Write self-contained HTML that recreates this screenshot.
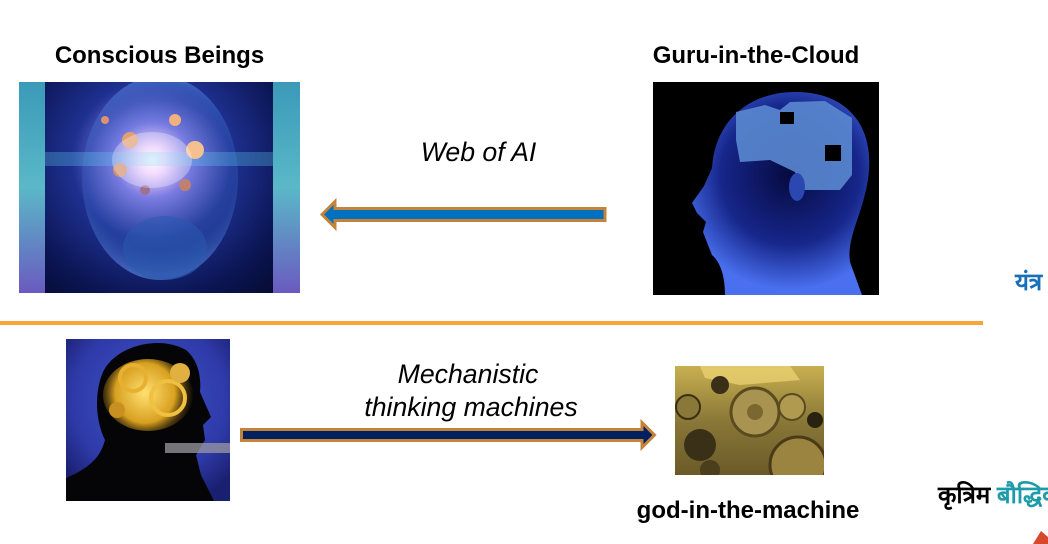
<!DOCTYPE html>
<html>
<head>
<meta charset="utf-8">
<style>
html,body{margin:0;padding:0;background:#fff;}
body{width:1048px;height:544px;overflow:hidden;position:relative;}
svg{position:absolute;left:0;top:0;}
</style>
</head>
<body>
<svg width="1048" height="544" viewBox="0 0 1048 544" xmlns="http://www.w3.org/2000/svg">
<defs>
  <clipPath id="c1"><rect x="19" y="82" width="281" height="211"/></clipPath>
  <clipPath id="c2"><rect x="653" y="82" width="226" height="213"/></clipPath>
  <clipPath id="c3"><rect x="66" y="339" width="164" height="162"/></clipPath>
  <clipPath id="c4"><rect x="675" y="366" width="149" height="109"/></clipPath>
  <radialGradient id="g1bg" cx="152" cy="160" r="190" gradientUnits="userSpaceOnUse">
    <stop offset="0" stop-color="#ffffff"/>
    <stop offset="0.07" stop-color="#f4d0ff"/>
    <stop offset="0.2" stop-color="#7a78e0"/>
    <stop offset="0.42" stop-color="#1e3090"/>
    <stop offset="0.75" stop-color="#0a1450"/>
    <stop offset="1" stop-color="#050a2a"/>
  </radialGradient>
  <radialGradient id="g1head" cx="160" cy="175" r="100" gradientUnits="userSpaceOnUse">
    <stop offset="0" stop-color="#a0c0ff" stop-opacity="0"/>
    <stop offset="0.75" stop-color="#3a70d0" stop-opacity="0.25"/>
    <stop offset="1" stop-color="#6aa0ff" stop-opacity="0.5"/>
  </radialGradient>
  <linearGradient id="g1col" x1="0" y1="0" x2="0" y2="1">
    <stop offset="0" stop-color="#3a9ab8"/>
    <stop offset="0.5" stop-color="#5ab8c8"/>
    <stop offset="1" stop-color="#6a5ac0"/>
  </linearGradient>
  <radialGradient id="g2head" cx="790" cy="175" r="115" gradientUnits="userSpaceOnUse">
    <stop offset="0" stop-color="#060a40"/>
    <stop offset="0.6" stop-color="#16268a"/>
    <stop offset="1" stop-color="#4a70f0"/>
  </radialGradient>
  <radialGradient id="g3bg" cx="150" cy="400" r="110" gradientUnits="userSpaceOnUse">
    <stop offset="0" stop-color="#4454c8"/>
    <stop offset="0.7" stop-color="#2e3aa8"/>
    <stop offset="1" stop-color="#1a2070"/>
  </radialGradient>
  <radialGradient id="g3gold" cx="145" cy="393" r="50" gradientUnits="userSpaceOnUse">
    <stop offset="0" stop-color="#ffe070"/>
    <stop offset="0.6" stop-color="#d8a020"/>
    <stop offset="1" stop-color="#503808" stop-opacity="0"/>
  </radialGradient>
  <linearGradient id="g4bg" x1="0" y1="0" x2="0" y2="1">
    <stop offset="0" stop-color="#c8b050"/>
    <stop offset="0.5" stop-color="#8a7838"/>
    <stop offset="1" stop-color="#6a5a28"/>
  </linearGradient>
</defs>

<!-- Titles -->
<g font-family="Liberation Sans, Arial, sans-serif" font-weight="bold" font-size="24" fill="#000" text-anchor="middle">
  <text x="159.5" y="63">Conscious Beings</text>
  <text x="756" y="63">Guru-in-the-Cloud</text>
  <text x="748" y="518">god-in-the-machine</text>
</g>
<g font-family="Liberation Sans, Arial, sans-serif" font-style="italic" font-size="26.67" fill="#000" text-anchor="middle">
  <text x="478.5" y="161">Web of AI</text>
  <text x="468" y="383">Mechanistic</text>
  <text x="471" y="416">thinking machines</text>
</g>

<!-- Image 1: Conscious beings -->
<g clip-path="url(#c1)">
  <rect x="19" y="82" width="281" height="211" fill="url(#g1bg)"/>
  <ellipse cx="160" cy="178" rx="78" ry="102" fill="url(#g1head)"/>
  <ellipse cx="165" cy="248" rx="42" ry="32" fill="#2a5ab0" opacity="0.55"/>
  <rect x="19" y="152" width="281" height="14" fill="#60d0f0" opacity="0.3"/>
  <rect x="19" y="82" width="26" height="211" fill="url(#g1col)"/>
  <rect x="273" y="82" width="27" height="211" fill="url(#g1col)"/>
  <circle cx="130" cy="140" r="8" fill="#e0a070"/>
  <circle cx="175" cy="120" r="6" fill="#f0b080"/>
  <circle cx="195" cy="150" r="9" fill="#f5c090"/>
  <circle cx="120" cy="170" r="7" fill="#d09070"/>
  <circle cx="185" cy="185" r="6" fill="#c08070"/>
  <circle cx="145" cy="190" r="5" fill="#a07090"/>
  <circle cx="105" cy="120" r="4" fill="#e09070"/>
  <ellipse cx="152" cy="160" rx="40" ry="28" fill="#ffffff" opacity="0.3"/>
</g>

<!-- Image 2: Guru-in-the-cloud -->
<g clip-path="url(#c2)">
  <rect x="653" y="82" width="226" height="213" fill="#000"/>
  <path d="M725 295 C725 275 720 262 712 255 L708 245 L703 232 L706 222 L697 213 L692 203 L704 186 L712 168 C715 120 750 92 795 92 C850 92 872 128 869 170 C866 210 846 235 850 262 L862 295 Z" fill="url(#g2head)"/>
  <path d="M736 112 L765 105 L780 110 L790 102 L825 101 L852 118 L852 175 L840 190 L800 190 L795 172 L770 160 L740 162 L736 140 Z" fill="#5a88d0" opacity="0.9"/>
  <rect x="780" y="112" width="14" height="12" fill="#000"/>
  <rect x="825" y="145" width="16" height="16" fill="#000"/>
  <ellipse cx="797" cy="187" rx="8" ry="14" fill="#2a48b0"/>
</g>

<!-- Divider line -->
<rect x="0" y="321" width="983" height="4" fill="#F9A53B"/>

<!-- Image 3: head with gears -->
<g clip-path="url(#c3)">
  <rect x="66" y="339" width="164" height="162" fill="url(#g3bg)"/>
  <path d="M66 501 L66 478 C85 470 100 460 105 440 C95 420 94 390 104 370 C118 345 160 335 186 350 C200 362 201 380 200 392 L211 417 L203 425 L205 440 L196 455 L201 475 L214 501 Z" fill="#050508"/>
  <ellipse cx="148" cy="395" rx="45" ry="36" fill="url(#g3gold)"/>
  <circle cx="168" cy="398" r="17" fill="none" stroke="#f0c040" stroke-width="4"/>
  <circle cx="133" cy="378" r="13" fill="none" stroke="#e8b030" stroke-width="4"/>
  <circle cx="117" cy="410" r="8" fill="#c89020"/>
  <circle cx="180" cy="373" r="10" fill="#e0b040"/>
  <rect x="165" y="443" width="65" height="10" fill="#9a9aa0" opacity="0.75"/>
</g>

<!-- Image 4: gears -->
<g clip-path="url(#c4)">
  <rect x="675" y="366" width="149" height="109" fill="url(#g4bg)"/>
  <path d="M700 366 L790 366 L800 380 L740 385 L705 378 Z" fill="#e8d070" opacity="0.8"/>
  <circle cx="755" cy="412" r="24" fill="#a89450" stroke="#5a4a20" stroke-width="3"/>
  <circle cx="755" cy="412" r="8" fill="#7a6830"/>
  <circle cx="792" cy="407" r="13" fill="#b09a50" stroke="#5a4a20" stroke-width="2"/>
  <circle cx="798" cy="465" r="28" fill="#9a8440" stroke="#4a3a18" stroke-width="3"/>
  <circle cx="688" cy="407" r="12" fill="#8a7838" stroke="#3a2e10" stroke-width="2"/>
  <circle cx="700" cy="445" r="16" fill="#3a3018"/>
  <circle cx="815" cy="420" r="8" fill="#2a2210"/>
  <circle cx="720" cy="385" r="9" fill="#3a3018"/>
  <circle cx="710" cy="470" r="10" fill="#4a3e1c"/>
</g>

<!-- Arrow 1 (left) -->
<polygon points="322,214.5 335,201.5 335,208.5 605,208.5 605,220.5 335,220.5 335,227.5" fill="#0070C0" stroke="#C4833A" stroke-width="3" stroke-linejoin="miter"/>

<!-- Arrow 2 (right) -->
<polygon points="241.5,429.5 642,429.5 642,422.5 654.5,435 642,447.5 642,440.5 241.5,440.5" fill="#002060" stroke="#C4833A" stroke-width="3" stroke-linejoin="miter"/>

<!-- Hindi labels on right edge -->
<g font-family="Liberation Sans, DejaVu Sans, sans-serif" font-weight="bold" font-size="24">
  <text x="1015" y="290" fill="#1A6FBA">यंत्र</text>
  <text x="938" y="503" fill="#000">कृत्रिम <tspan fill="#1E9BAA">बौद्धिकता</tspan></text>
</g>
<polygon points="1033,544 1041,531 1048,537 1048,544" fill="#D8482A"/>
</svg>
</body>
</html>
